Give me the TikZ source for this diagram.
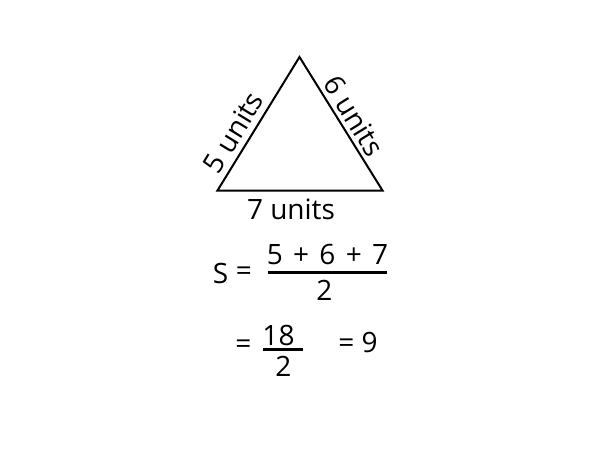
\documentclass[tikz,border=0pt]{standalone}
\usepackage{fontspec}
\setmainfont{Open Sans}
\begin{document}
\begin{tikzpicture}[x=1pt,y=-1pt,
  lbl/.style={inner sep=0pt,font=\fontsize{28}{30}\selectfont},
  edge/.style={line width=2pt,line join=miter},
  bar/.style={line width=3pt}]
\useasboundingbox (0,0) rectangle (600,450);
\coordinate (A) at (299.5,57);
\coordinate (B) at (217.5,190.5);
\coordinate (C) at (382.5,190.5);
\draw[edge] (A) -- (B) -- (C) -- cycle;
\node[lbl,rotate=58.5] (l5) at (233.3,132.3) {5 units};
\node[lbl,rotate=-58.3] (l6) at (354.2,115.8) {6 units};
\node[lbl] (l7) at (291,209.5) {7 units};
% first line
\node[lbl] (S) at (220.5,273.5) {S};
\node[lbl] (eq1) at (244,274) {=};
\node[lbl] (num) at (327.5,254) {5\hspace{3pt} + \hspace{3pt}6\hspace{3pt} + \hspace{3pt}7};
\node[lbl] (den) at (324.5,290) {2};
\coordinate (b1l) at (268,272);
\coordinate (b1r) at (387,272);
\draw[bar] (b1l) -- (b1r);
% second line
\node[lbl] (eq2) at (243.5,347) {=};
\node[lbl] (n18) at (278.5,335) {18};
\node[lbl] (d2) at (283.5,366) {2};
\coordinate (b2l) at (263,349.5);
\coordinate (b2r) at (303,349.5);
\draw[bar] (b2l) -- (b2r);
\node[lbl] (res) at (358,342.5) {= 9};
\end{tikzpicture}
\end{document}
